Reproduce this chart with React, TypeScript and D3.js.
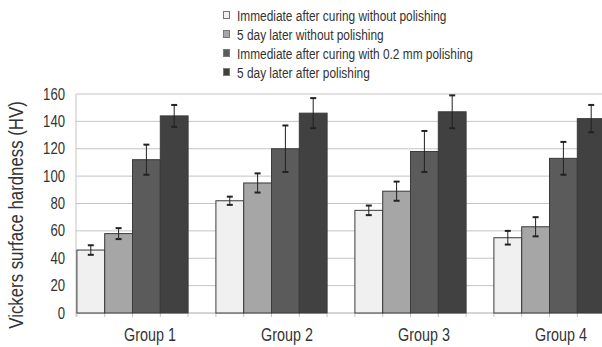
import React from 'react';
import * as d3 from 'd3';

const groups = ['Group 1', 'Group 2', 'Group 3', 'Group 4'];
const seriesNames = [
  'Immediate after curing without polishing',
  '5 day later without polishing',
  'Immediate after curing with 0.2 mm polishing',
  '5 day later after polishing',
];
const seriesColors = ['#f0f0f0', '#a6a6a6', '#5b5b5b', '#414141'];
// values per series, one per group
const means = [
  [46, 82, 75, 55],
  [58, 95, 89, 63],
  [112, 120, 118, 113],
  [144, 146, 147, 142],
];
const errors = [
  [3.5, 3, 3.5, 5],
  [4, 7, 7, 7],
  [11, 17, 15, 12],
  [8, 11, 12, 10],
];
const yTicks = [0, 20, 40, 60, 80, 100, 120, 140, 160];

const W = 602;
const H = 347;
const SQUEEZE = 0.82; // the original uses a condensed sans face

// condensed-looking text: Liberation Sans squeezed horizontally
const Txt = ({ x, y, size, anchor = 'start', rotate = 0, children }: any) => (
  <text
    transform={`translate(${x},${y}) rotate(${rotate}) scale(${SQUEEZE},1)`}
    textAnchor={anchor}
    fontSize={size}
    fill="#333"
  >
    {children}
  </text>
);

const App = () => {
  const left = 76;
  const right = W;
  const top = 94;
  const bottom = 313;

  const y = d3.scaleLinear().domain([0, 160]).range([bottom, top]);
  // each group band holds 4 bars plus one bar-width gap
  const x0 = d3.scaleBand<string>()
    .domain(groups)
    .range([63, 63 + 139 * groups.length])
    .paddingInner(0)
    .paddingOuter(0);
  const barW = x0.bandwidth() / 5;
  const x1 = d3.scaleBand<number>()
    .domain([0, 1, 2, 3])
    .range([barW / 2, barW / 2 + barW * 4]);

  const tickXs: number[] = [];
  groups.forEach((g) => {
    for (let i = 0; i <= 4; i++) tickXs.push((x0(g) as number) + barW / 2 + i * barW);
  });

  return (
    <svg width={W} height={H} style={{ position: 'absolute', left: 0, top: 0 }} fontFamily='"Liberation Sans", Arial, sans-serif'>
      <rect width={W} height={H} fill="#fff" />
      {/* legend */}
      {seriesNames.map((s, i) => (
        <g key={s} transform={`translate(223, ${16 + i * 19})`}>
          <rect x={0.5} y={-4.5} width={6} height={7} fill={seriesColors[i]} stroke="#777" strokeWidth={1} />
          <Txt x={14} y={5} size={14.5}>{s}</Txt>
        </g>
      ))}
      {/* grid */}
      {yTicks.map((t) => (
        <g key={t}>
          <line x1={left} x2={right} y1={y(t)} y2={y(t)} stroke={t === 0 ? '#aaa' : '#c4c4c4'} strokeWidth={1} />
          <Txt x={left - 11} y={y(t) + 5.5} size={16} anchor="end">{t}</Txt>
        </g>
      ))}
      <line x1={left} x2={left} y1={top} y2={bottom + 4} stroke="#c4c4c4" />
      {tickXs.map((tx, i) => (
        <line key={i} x1={tx} x2={tx} y1={bottom} y2={bottom + 4} stroke="#c4c4c4" />
      ))}
      {/* bars */}
      {means.map((row, si) =>
        row.map((v, gi) => {
          const bx = (x0(groups[gi]) as number) + (x1(si) as number);
          const cx = bx + barW / 2;
          const e = errors[si][gi];
          return (
            <g key={`${si}-${gi}`}>
              <rect x={bx} y={y(v)} width={barW} height={y(0) - y(v)} fill={seriesColors[si]} stroke="#3a3a3a" strokeWidth={1} />
              <line x1={cx} x2={cx} y1={y(v + e)} y2={y(v - e)} stroke="#222" strokeWidth={1} />
              <line x1={cx - 3} x2={cx + 3} y1={y(v + e)} y2={y(v + e)} stroke="#222" strokeWidth={2} />
              <line x1={cx - 3} x2={cx + 3} y1={y(v - e)} y2={y(v - e)} stroke="#222" strokeWidth={2} />
            </g>
          );
        })
      )}
      {/* group labels */}
      {groups.map((g, i) => (
        <Txt key={g} x={150 + i * 137} y={341} size={17.5} anchor="middle">{g}</Txt>
      ))}
      <Txt x={23} y={215} size={20.5} anchor="middle" rotate={-90}>
        Vickers surface hardness (HV)
      </Txt>
    </svg>
  );
};

export default App;
